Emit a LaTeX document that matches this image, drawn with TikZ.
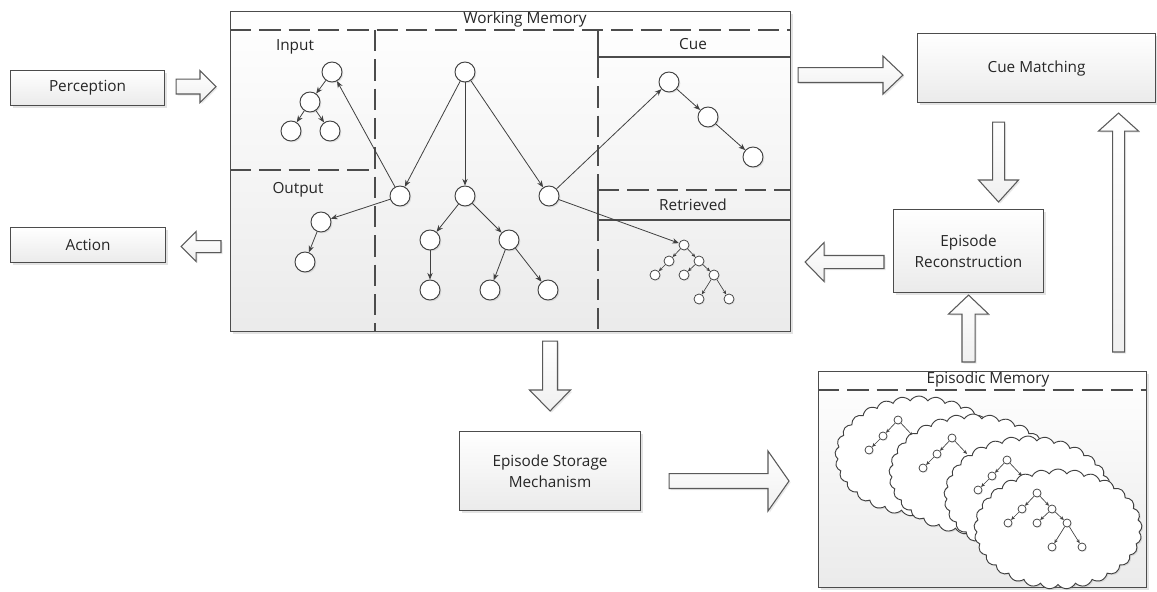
\documentclass[tikz,border=0pt]{standalone}
\usepackage{fontspec}
\setmainfont{Open Sans}
\usetikzlibrary{calc,shadows,shapes.symbols,arrows.meta}

% hollow block arrow from #1 to #2: shaft half width #3, head half width #4, head length #5
\newcommand\blockarrow[5]{%
  \coordinate (ba-h) at ($(#2)!#5!(#1)$);
  \path[blockarrow] ($(#1)!#3!90:(#2)$) -- ($(ba-h)!#3!-90:(#1)$) -- ($(ba-h)!#4!-90:(#1)$)
    -- (#2) -- ($(ba-h)!#4!90:(#1)$) -- ($(ba-h)!#3!90:(#1)$) -- ($(#1)!#3!-90:(#2)$) -- cycle;
}

\tikzset{
  lbl/.style={text=black!85, font=\fontsize{11.5}{15.5}\selectfont},
  box/.style={draw=black!70, line width=0.8pt, top color=white, bottom color=black!8,
    anchor=north west, inner sep=0pt, align=center, lbl,
    drop shadow={shadow xshift=1.5pt, shadow yshift=-1.5pt, opacity=0.22}},
  blockarrow/.style={draw=black!65, line width=0.8pt, top color=white, bottom color=black!6,
    line join=miter, drop shadow={shadow xshift=1.2pt, shadow yshift=-1.2pt, opacity=0.18}},
  zone/.style={draw=black!70, line width=0.8pt, dash pattern=on 16pt off 6pt},
  zoneedge/.style={draw=black!70, line width=0.8pt},
  bub/.style={circle, draw=black!75, line width=0.7pt, fill=white, inner sep=0pt, minimum size=15pt,
    drop shadow={shadow xshift=1pt, shadow yshift=-1pt, opacity=0.2}},
  sbub/.style={circle, draw=black!75, line width=0.55pt, fill=white, inner sep=0pt, minimum size=7pt,
    drop shadow={shadow xshift=0.7pt, shadow yshift=-0.7pt, opacity=0.2}},
  link/.style={draw=black!75, line width=0.6pt, -{Stealth[length=5pt,width=4pt]}},
  slink/.style={draw=black!75, line width=0.5pt, -{Stealth[length=3pt,width=2.6pt]}},
  cloudy/.style={cloud, cloud puffs=29, cloud puff arc=115, cloud ignores aspect,
    draw=black!75, line width=0.7pt, fill=white, minimum width=126pt, minimum height=90pt,
    inner sep=0pt, drop shadow={shadow xshift=1pt, shadow yshift=-1pt, opacity=0.18}},
  pics/smalltree/.style={code={
    \node[sbub, minimum size=#1] (-r)   at (0,0)   {};
    \node[sbub, minimum size=#1] (-a)   at (-15,16) {};
    \node[sbub, minimum size=#1] (-b)   at (15,16)  {};
    \node[sbub, minimum size=#1] (-aa)  at (-29,30) {};
    \node[sbub, minimum size=#1] (-ba)  at (0,30)   {};
    \node[sbub, minimum size=#1] (-bb)  at (30,30)  {};
    \node[sbub, minimum size=#1] (-bba) at (15,54)  {};
    \node[sbub, minimum size=#1] (-bbb) at (45,54)  {};
    \draw[slink] (-r) -- (-a);
    \draw[slink] (-r) -- (-b);
    \draw[slink] (-a) -- (-aa);
    \draw[slink] (-b) -- (-ba);
    \draw[slink] (-b) -- (-bb);
    \draw[slink] (-bb) -- (-bba);
    \draw[slink] (-bb) -- (-bbb);
  }},
  pics/backtree/.style={code={
    \node[sbub, minimum size=#1] (-r)  at (0,0)    {};
    \node[sbub, minimum size=#1] (-a)  at (-15,16) {};
    \node[sbub, minimum size=#1] (-aa) at (-29,30) {};
    \coordinate (-b) at (15,16);
    \draw[slink] (-r) -- (-a);
    \draw[slink] (-a) -- (-aa);
    \draw[slink] (-r) -- (-b);
  }},
}

\begin{document}
\begin{tikzpicture}[x=0.75pt, y=-0.75pt]
\path[use as bounding box, fill=white] (0,0) rectangle (1157,592);

% ---------- boxes ----------
\node[box, minimum width=115.5pt, minimum height=26.25pt] (perc) at (10,70)  {Perception};
\node[box, minimum width=116.25pt, minimum height=26.25pt] (act) at (10,227) {Action};
\node[box, minimum width=420pt, minimum height=240pt] (wm) at (230,11) {};
\node[box, minimum width=178.5pt, minimum height=51.75pt] (cm) at (917,33) {Cue Matching};
\node[box, minimum width=112.5pt, minimum height=62.25pt] (rec) at (893,209) {Episode\\Reconstruction};
\node[box, minimum width=135.75pt, minimum height=59.25pt] (sto) at (459,431) {Episode Storage\\Mechanism};
\node[box, minimum width=246pt, minimum height=162pt] (epi) at (818,371) {};

% ---------- working memory partitions ----------
\node[lbl] (wmtitle) at (525,20) {Working Memory};
\draw[zone] (230,30) -- (790,30);
\draw[zone] (375,30) -- (375,331);
\draw[zone] (230,170) -- (375,170);
\draw[zoneedge] (598,30) -- (598,57) -- (790,57);
\draw[zone] (598,57) -- (598,190);
\draw[zone] (598,190) -- (790,190);
\draw[zoneedge] (598,190) -- (598,220) -- (790,220);
\draw[zone] (598,220) -- (598,331);
\node[lbl] (inlbl)  at (295,47)  {Input};
\node[lbl] (outlbl) at (298,190) {Output};
\node[lbl] (cuelbl) at (693,44)  {Cue};
\node[lbl] (retlbl) at (693,205) {Retrieved};

% ---------- structure graph ----------
\node[bub] (in1) at (332,72)  {};
\node[bub] (in2) at (310,102) {};
\node[bub] (in3) at (291,131) {};
\node[bub] (in4) at (330,131) {};
\node[bub] (top) at (465,72)  {};
\node[bub] (ml)  at (400,196) {};
\node[bub] (mc)  at (465,196) {};
\node[bub] (mr)  at (549,196) {};
\node[bub] (o1)  at (321,222) {};
\node[bub] (o2)  at (305,262) {};
\node[bub] (c1)  at (430,240) {};
\node[bub] (c2)  at (509,240) {};
\node[bub] (c3)  at (430,290) {};
\node[bub] (c4)  at (490,290) {};
\node[bub] (c5)  at (548,290) {};
\node[bub] (q1)  at (669,82)  {};
\node[bub] (q2)  at (708,117) {};
\node[bub] (q3)  at (753,157) {};
\pic (ret) at (684,245) {smalltree=7.5pt};

\draw[link] (in1) -- (in2);
\draw[link] (in2) -- (in3);
\draw[link] (in2) -- (in4);
\draw[link] (ml) -- (in1);
\draw[link] (top) -- (ml);
\draw[link] (top) -- (mc);
\draw[link] (top) -- (mr);
\draw[link] (ml) -- (o1);
\draw[link] (o1) -- (o2);
\draw[link] (mc) -- (c1);
\draw[link] (mc) -- (c2);
\draw[link] (c1) -- (c3);
\draw[link] (c2) -- (c4);
\draw[link] (c2) -- (c5);
\draw[link] (mr) -- (q1);
\draw[link] (q1) -- (q2);
\draw[link] (q2) -- (q3);
\draw[link] (mr) -- (ret-r);

% ---------- episodic memory ----------
\node[lbl] (epititle) at (988,380) {Episodic Memory};
\draw[zone] (818,390) -- (1146,390);
\node[cloudy] (e1) at (919,456) {};
\pic (t1) at (898,420) {backtree=6pt};
\node[cloudy] (e2) at (973,474) {};
\pic (t2) at (952,438) {backtree=6pt};
\node[cloudy] (e3) at (1028,496) {};
\pic (t3) at (1007,460) {backtree=6pt};
\node[cloudy] (e4) at (1058,529) {};
\pic (t4) at (1037,493) {smalltree=6pt};

% ---------- block arrows ----------
\coordinate (p1) at ($(perc.east)+(11,-1.5)$);
\coordinate (p2) at ($(perc.east -| wm.west)+(-14,-1.5)$);
\blockarrow{p1}{p2}{5.6pt}{12pt}{12pt}

\coordinate (a1) at ($(act.east -| wm.west)+(-9,1.5)$);
\coordinate (a2) at ($(act.east)+(15,1.5)$);
\blockarrow{a1}{a2}{4.5pt}{11.25pt}{11.25pt}

\coordinate (m1) at ($(cm.west -| wm.east)+(7,7)$);
\coordinate (m2) at ($(cm.west)+(-14,7)$);
\blockarrow{m1}{m2}{5.6pt}{14.25pt}{15pt}

\coordinate (r1) at ($(rec.north |- cm.south)+(30,19)$);
\coordinate (r2) at ($(rec.north)+(30,-7)$);
\blockarrow{r1}{r2}{4.5pt}{15pt}{16.5pt}

\coordinate (b1) at ($(rec.west)+(-9,11)$);
\coordinate (b2) at ($(rec.west -| wm.east)+(14,11)$);
\blockarrow{b1}{b2}{4.9pt}{14.6pt}{14.25pt}

\coordinate (u1) at ($(rec.south |- epi.north)+(0,-9)$);
\coordinate (u2) at ($(rec.south)+(0,2)$);
\blockarrow{u1}{u2}{4.9pt}{15pt}{14.25pt}

\coordinate (v1) at ($(cm.south |- epi.north)+(82,-19)$);
\coordinate (v2) at ($(cm.south)+(82,10)$);
\blockarrow{v1}{v2}{4.5pt}{15pt}{13.5pt}

\coordinate (s1) at ($(sto.north |- wm.south)+(0,9)$);
\coordinate (s2) at ($(sto.north)+(0,-20)$);
\blockarrow{s1}{s2}{5.6pt}{15.4pt}{15.75pt}

\coordinate (k1) at ($(sto.east)+(28,10)$);
\coordinate (k2) at ($(sto.east -| epi.west)+(-29,10)$);
\blockarrow{k1}{k2}{5.6pt}{22.5pt}{15.75pt}
\end{tikzpicture}
\end{document}
